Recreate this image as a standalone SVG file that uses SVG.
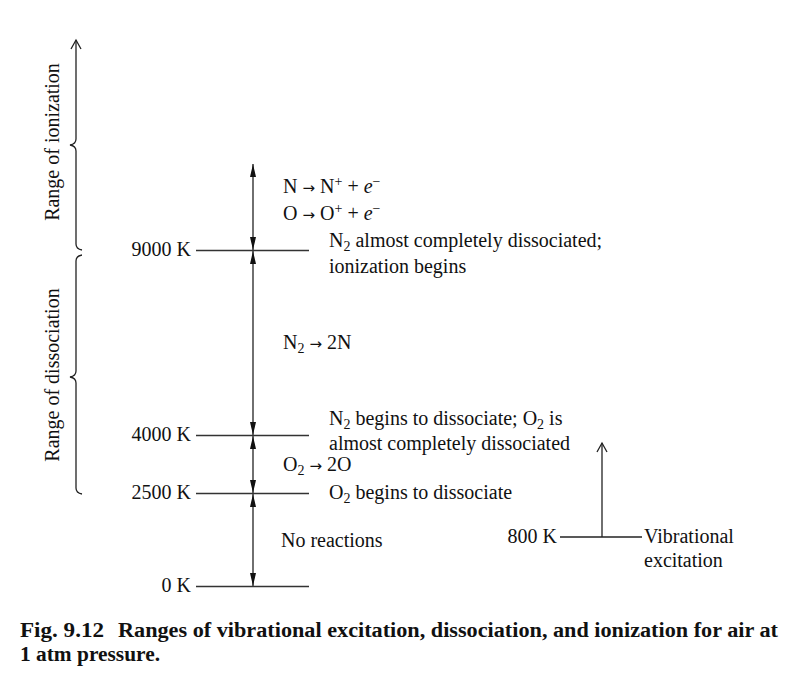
<svg xmlns="http://www.w3.org/2000/svg" width="802" height="684" viewBox="0 0 802 684">
<style>
text{font-family:"Liberation Serif","Times New Roman",serif;font-size:20px;fill:#111}
.cap{font-family:"Liberation Serif","Times New Roman",serif;font-weight:bold;font-size:20px}
.ar{font-family:"DejaVu Sans",sans-serif;font-size:15px}
.ln{stroke:#222;stroke-width:1.3;fill:none}
.hl{stroke:#333;stroke-width:1.3;fill:none}
</style>
<defs>
<marker id="fa" markerUnits="userSpaceOnUse" markerWidth="14" markerHeight="8" refX="13" refY="3.5" orient="auto-start-reverse">
<path d="M0,0.5 L13,3.5 L0,6.5 Z" fill="#111"/>
</marker>
<marker id="oa" markerUnits="userSpaceOnUse" markerWidth="12" markerHeight="14" refX="10" refY="6" orient="auto-start-reverse">
<path d="M1,1 L10,6 L1,11" fill="none" stroke="#222" stroke-width="1.3"/>
</marker>
</defs>
<rect width="802" height="684" fill="#fff"/>

<g id="connectors">
<line class="ln" x1="253" y1="164" x2="253" y2="250" marker-start="url(#fa)" marker-end="url(#fa)"/>
<line class="ln" x1="253" y1="251" x2="253" y2="435" marker-start="url(#fa)" marker-end="url(#fa)"/>
<line class="ln" x1="253" y1="436" x2="253" y2="493" marker-start="url(#fa)" marker-end="url(#fa)"/>
<line class="ln" x1="253" y1="494" x2="253" y2="586" marker-start="url(#fa)" marker-end="url(#fa)"/>
<line class="ln" x1="602" y1="537" x2="602" y2="443" marker-end="url(#oa)"/>
</g>

<g id="level-9000">
<line class="hl" x1="196" y1="250.5" x2="309" y2="250.5"/>
<text x="191" y="256" text-anchor="end">9000 K</text>
</g>
<g id="level-4000">
<line class="hl" x1="196" y1="435.5" x2="309" y2="435.5"/>
<text x="191" y="441" text-anchor="end">4000 K</text>
</g>
<g id="level-2500">
<line class="hl" x1="196" y1="493.5" x2="309" y2="493.5"/>
<text x="191" y="499" text-anchor="end">2500 K</text>
</g>
<g id="level-0">
<line class="hl" x1="196" y1="586.5" x2="309" y2="586.5"/>
<text x="191" y="592" text-anchor="end">0 K</text>
</g>

<g id="ionization-reactions">
<text x="283" y="193">N <tspan class="ar">→</tspan> N<tspan dy="-7" font-size="14">+</tspan><tspan dy="7"> + </tspan><tspan font-style="italic">e</tspan><tspan dy="-7" font-size="14">−</tspan></text>
<text x="283" y="220">O <tspan class="ar">→</tspan> O<tspan dy="-7" font-size="14">+</tspan><tspan dy="7"> + </tspan><tspan font-style="italic">e</tspan><tspan dy="-7" font-size="14">−</tspan></text>
</g>
<g id="note-9000">
<text x="329" y="247">N<tspan dy="4" font-size="14">2</tspan><tspan dy="-4"> almost completely dissociated;</tspan></text>
<text x="329" y="273">ionization begins</text>
</g>
<g id="n2-dissociation">
<text x="283" y="349">N<tspan dy="4" font-size="14">2</tspan><tspan dy="-4"> </tspan><tspan class="ar">→</tspan><tspan> 2N</tspan></text>
</g>
<g id="note-4000">
<text x="329" y="425">N<tspan dy="4" font-size="14">2</tspan><tspan dy="-4"> begins to dissociate; O</tspan><tspan dy="4" font-size="14">2</tspan><tspan dy="-4"> is</tspan></text>
<text x="329" y="450">almost completely dissociated</text>
</g>
<g id="o2-dissociation">
<text x="283" y="471">O<tspan dy="4" font-size="14">2</tspan><tspan dy="-4"> </tspan><tspan class="ar">→</tspan><tspan> 2O</tspan></text>
</g>
<g id="note-2500">
<text x="329" y="499">O<tspan dy="4" font-size="14">2</tspan><tspan dy="-4"> begins to dissociate</tspan></text>
</g>
<g id="no-reactions">
<text x="281" y="547">No reactions</text>
</g>

<g id="vibrational">
<line class="ln" x1="560" y1="537" x2="642" y2="537"/>
<text x="557" y="543" text-anchor="end">800 K</text>
<text x="644" y="543">Vibrational</text>
<text x="644" y="567">excitation</text>
</g>

<g id="range-ionization">
<path class="ln" d="M76,40 L76,139 Q76,144 70,145 Q76,146 76,151 L76,244 Q76,249 82,250" marker-start="url(#oa)"/>
<text transform="translate(59,142) rotate(-90)" text-anchor="middle">Range of ionization</text>
</g>
<g id="range-dissociation">
<path class="ln" d="M82,255 Q76,256 76,261 L76,371 Q76,376 70,377 Q76,378 76,383 L76,488 Q76,493 82,494"/>
<text transform="translate(59,375) rotate(-90)" text-anchor="middle">Range of dissociation</text>
</g>

<g id="caption">
<text class="cap" x="20" y="637" textLength="84" lengthAdjust="spacingAndGlyphs">Fig. 9.12</text>
<text class="cap" x="118" y="637" textLength="660" lengthAdjust="spacingAndGlyphs">Ranges of vibrational excitation, dissociation, and ionization for air at</text>
<text class="cap" x="20" y="661" textLength="140" lengthAdjust="spacingAndGlyphs">1 atm pressure.</text>
</g>
</svg>
